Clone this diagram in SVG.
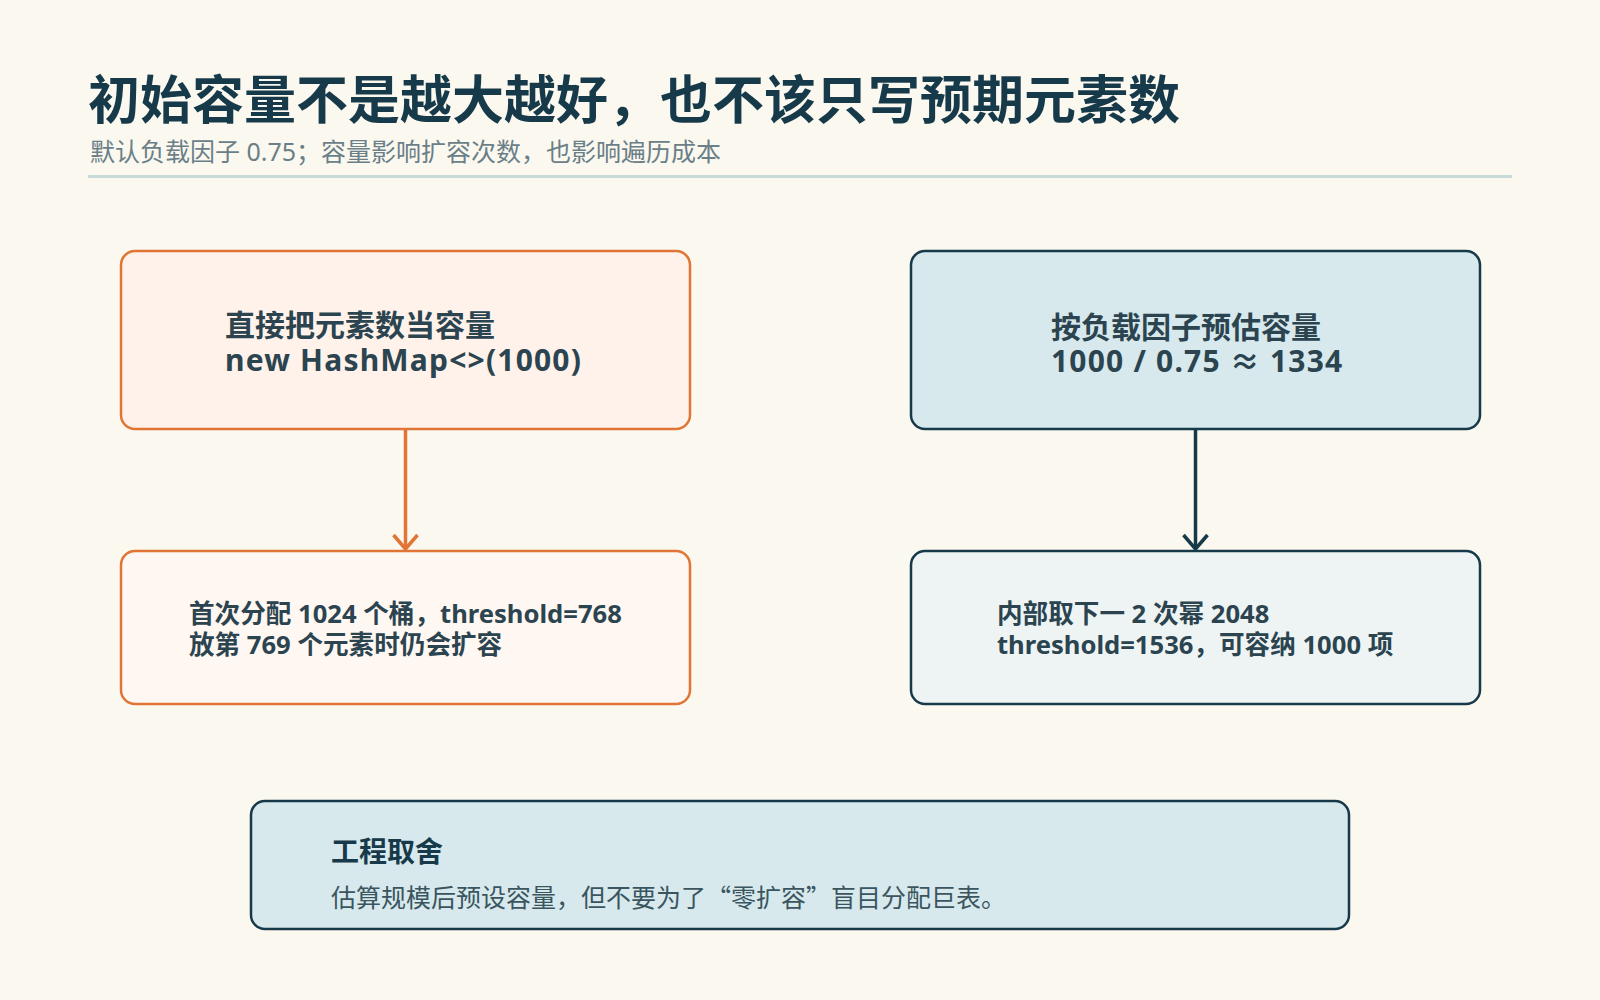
<svg xmlns="http://www.w3.org/2000/svg" width="1600" height="1000" viewBox="0 0 1600 1000">
  <style>
    text { font-family: "Noto Sans", "Noto Sans CJK SC", sans-serif; }
    .title { font-size: 52px; font-weight: 700; fill: #173a4a; }
    .sub { font-size: 25px; fill: #6a7f87; }
    .big { font-size: 30px; font-weight: 700; fill: #2b4450; }
    .lat { letter-spacing: 1.2px; }
    .mid { font-size: 25.6px; font-weight: 700; fill: #2b4450; }
    .orangeA { fill: #fff2ea; stroke: #e07535; stroke-width: 2.5; }
    .orangeB { fill: #fff7f2; stroke: #e07535; stroke-width: 2.5; }
    .blueA { fill: #d7e9ec; stroke: #173a4a; stroke-width: 2.5; }
    .blueB { fill: #eef4f4; stroke: #173a4a; stroke-width: 2.5; }
    .noteTitle { font-size: 28px; font-weight: 700; fill: #173a4a; }
    .noteBody { font-size: 25px; fill: #3a5560; font-family: "Noto Sans CJK SC", "Noto Sans", sans-serif; }
  </style>
  <defs>
    <marker id="arrO" viewBox="-16 -14 18 28" refX="0" refY="0" markerUnits="userSpaceOnUse" markerWidth="18" markerHeight="28" orient="auto">
      <path d="M-14,-12 L0,0 L-14,12" fill="none" stroke="#e07535" stroke-width="3.5"/>
    </marker>
    <marker id="arrB" viewBox="-16 -14 18 28" refX="0" refY="0" markerUnits="userSpaceOnUse" markerWidth="18" markerHeight="28" orient="auto">
      <path d="M-14,-12 L0,0 L-14,12" fill="none" stroke="#173a4a" stroke-width="3.5"/>
    </marker>
  </defs>
  <rect x="0" y="0" width="1600" height="1000" fill="#fbf8f0"/>

  <g id="header">
    <text class="title" x="88" y="119">初始容量不是越大越好，也不该只写预期元素数</text>
    <text class="sub" x="90" y="161">默认负载因子 0.75；容量影响扩容次数，也影响遍历成本</text>
    <rect x="88" y="175" width="1424" height="3" fill="#c9dadb"/>
  </g>

  <g id="connectors">
    <line x1="405.5" y1="430" x2="405.5" y2="549" stroke="#e07535" stroke-width="3.5" marker-end="url(#arrO)"/>
    <line x1="1195.5" y1="430" x2="1195.5" y2="549" stroke="#173a4a" stroke-width="3.5" marker-end="url(#arrB)"/>
  </g>

  <g id="node-direct">
    <rect class="orangeA" x="121" y="251" width="569" height="178" rx="14"/>
    <text class="big"><tspan x="225" y="336">直接把元素数当容量</tspan><tspan class="lat" x="225" y="371">new HashMap&lt;&gt;(1000)</tspan></text>
  </g>

  <g id="node-estimate">
    <rect class="blueA" x="911" y="251" width="569" height="178" rx="14"/>
    <text class="big"><tspan x="1051" y="338">按负载因子预估容量</tspan><tspan class="lat" x="1051" y="372">1000 / 0.75 ≈ 1334</tspan></text>
  </g>

  <g id="node-first-alloc">
    <rect class="orangeB" x="121" y="551" width="569" height="153" rx="14"/>
    <text class="mid"><tspan x="189" y="623">首次分配 1024 个桶，threshold=768</tspan><tspan x="189" y="654">放第 769 个元素时仍会扩容</tspan></text>
  </g>

  <g id="node-next-pow">
    <rect class="blueB" x="911" y="551" width="569" height="153" rx="14"/>
    <text class="mid"><tspan x="997" y="623">内部取下一 2 次幂 2048</tspan><tspan x="997" y="654">threshold=1536，可容纳 1000 项</tspan></text>
  </g>

  <g id="node-tradeoff">
    <rect class="blueA" x="251" y="801" width="1098" height="128" rx="14"/>
    <text class="noteTitle" x="331" y="862">工程取舍</text>
    <text class="noteBody" x="331" y="907">估算规模后预设容量，但不要为了“零扩容”盲目分配巨表。</text>
  </g>
</svg>
